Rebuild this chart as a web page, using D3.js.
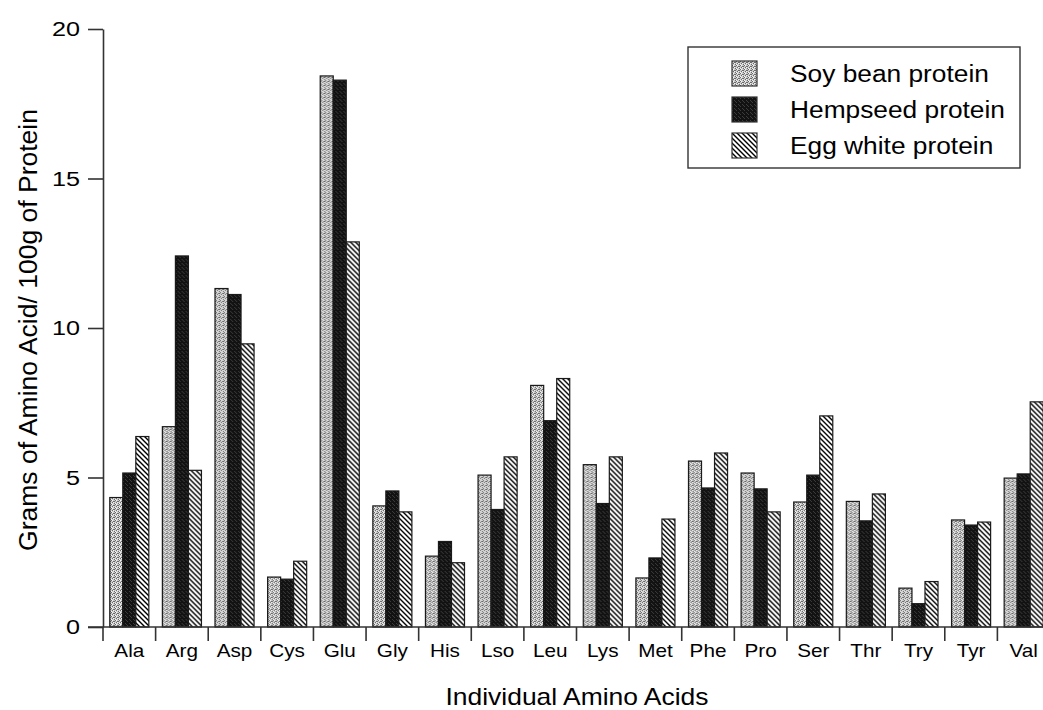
<!DOCTYPE html>
<html>
<head>
<meta charset="utf-8">
<script src="https://cdn.jsdelivr.net/npm/d3@7"></script>
<style>
  body { margin: 0; background: #fff; }
  svg { display: block; }
  text { font-family: "Liberation Sans", Arial, sans-serif; fill: #000; }
</style>
</head>
<body>
<div id="chart"></div>
<script>
// values (g amino acid / 100 g protein)
const aminoAcids = ['Ala', 'Arg', 'Asp', 'Cys', 'Glu', 'Gly', 'His', 'Lso', 'Leu',
                    'Lys', 'Met', 'Phe', 'Pro', 'Ser', 'Thr', 'Try', 'Tyr', 'Val'];
const seriesNames = ['Soy bean protein', 'Hempseed protein', 'Egg white protein'];
const soyBean  = [4.33, 6.70, 11.32, 1.67, 18.43, 4.05, 2.37, 5.08, 8.08,
                  5.43, 1.64, 5.55, 5.15, 4.18, 4.20, 1.30, 3.58, 4.98];
const hempseed = [5.15, 12.41, 11.12, 1.60, 18.29, 4.55, 2.86, 3.93, 6.90,
                  4.13, 2.31, 4.65, 4.62, 5.08, 3.55, 0.78, 3.41, 5.12];
const eggWhite = [6.37, 5.24, 9.47, 2.20, 12.88, 3.85, 2.15, 5.69, 8.31,
                  5.69, 3.61, 5.82, 3.85, 7.06, 4.45, 1.52, 3.51, 7.53];
const yTicks = [0, 5, 10, 15, 20];

const width = 1043, height = 710;
const SX = 1.15; // the figure's lettering is wider than it is tall

const svg = d3.select('#chart').append('svg')
    .attr('width', width)
    .attr('height', height);

// fill patterns
const defs = svg.append('defs');

// soy: light grey stipple
const pSoy = defs.append('pattern').attr('id', 'pat-soy')
    .attr('width', 4).attr('height', 4).attr('patternUnits', 'userSpaceOnUse');
pSoy.append('rect').attr('width', 4).attr('height', 4).attr('fill', '#cbcbcb');
[[0, 0], [2, 1], [1, 2], [3, 3], [3, 1]].forEach(([a, b]) =>
    pSoy.append('rect').attr('x', a).attr('y', b).attr('width', 1).attr('height', 1).attr('fill', '#6a6a6a'));
[[1, 0], [0, 3], [2, 2]].forEach(([a, b]) =>
    pSoy.append('rect').attr('x', a).attr('y', b).attr('width', 1).attr('height', 1).attr('fill', '#f4f4f4'));

// hempseed: almost black with a faint grid
const pHemp = defs.append('pattern').attr('id', 'pat-hemp')
    .attr('width', 4).attr('height', 4).attr('patternUnits', 'userSpaceOnUse');
pHemp.append('rect').attr('width', 4).attr('height', 4).attr('fill', '#121212');
[[0, 1], [2, 3], [3, 0]].forEach(([a, b]) =>
    pHemp.append('rect').attr('x', a).attr('y', b).attr('width', 1).attr('height', 1).attr('fill', '#3c3c3c'));

// egg white: back-slash hatching
const pEgg = defs.append('pattern').attr('id', 'pat-egg')
    .attr('width', 5).attr('height', 5).attr('patternUnits', 'userSpaceOnUse');
pEgg.append('rect').attr('width', 5).attr('height', 5).attr('fill', '#fff');
pEgg.append('path')
    .attr('d', 'M-1,-1 L6,6 M-1,4 L1,6 M4,-1 L6,1')
    .attr('stroke', '#000').attr('stroke-width', 1.4);

const fills = ['url(#pat-soy)', 'url(#pat-hemp)', 'url(#pat-egg)'];
const seriesValues = [soyBean, hempseed, eggWhite];

// scales
const x = d3.scaleBand().domain(aminoAcids).range([103, 1050]).padding(0);
const x1 = d3.scaleBand().domain(seriesNames).range([0, x.bandwidth()])
    .paddingInner(0).paddingOuter(0.52);
const y = d3.scaleLinear().domain([0, 20]).range([627, 29]);

// stretched text helper
function stretchText(sel, k) {
    sel.attr('transform', function () {
        const tx = +this.getAttribute('x') || 0;
        return `translate(${tx},0) scale(${k},1) translate(${-tx},0)`;
    });
}

// bars
const rows = aminoAcids.map((a, i) => ({ key: a, vals: seriesValues.map(s => s[i]) }));
const groups = svg.append('g').selectAll('g')
    .data(rows)
    .join('g')
    .attr('transform', d => `translate(${x(d.key)},0)`);

groups.selectAll('rect')
    .data(d => d.vals.map((v, j) => ({ name: seriesNames[j], v, j })))
    .join('rect')
    .attr('x', d => x1(d.name))
    .attr('y', d => y(d.v))
    .attr('width', x1.bandwidth())
    .attr('height', d => y(0) - y(d.v))
    .attr('fill', d => fills[d.j])
    .attr('stroke', '#1a1a1a')
    .attr('stroke-width', 1.2);

// y axis
const yAxis = svg.append('g')
    .attr('transform', 'translate(103,0)')
    .call(d3.axisLeft(y).tickValues(yTicks).tickSize(15).tickSizeOuter(0).tickPadding(8));
yAxis.select('.domain').attr('stroke', '#333').attr('stroke-width', 1.6);
yAxis.selectAll('.tick line').attr('stroke', '#333').attr('stroke-width', 1.6);
yAxis.selectAll('.tick text')
    .style('font-size', '21px')
    .call(stretchText, 1.2);

// x axis: labels centred in the bands, ticks on the band edges
svg.append('line')
    .attr('x1', 88).attr('x2', 1050)
    .attr('y1', y(0)).attr('y2', y(0))
    .attr('stroke', '#333').attr('stroke-width', 1.6);

svg.append('g').selectAll('line')
    .data(aminoAcids)
    .join('line')
    .attr('x1', d => x(d)).attr('x2', d => x(d))
    .attr('y1', y(0)).attr('y2', y(0) + 14)
    .attr('stroke', '#333').attr('stroke-width', 1.6);

svg.append('g').selectAll('text')
    .data(aminoAcids)
    .join('text')
    .attr('x', d => x(d) + x.bandwidth() / 2)
    .attr('y', 657)
    .attr('text-anchor', 'middle')
    .style('font-size', '18px')
    .text(d => d)
    .call(stretchText, SX);

// axis titles
svg.append('text')
    .attr('x', 577)
    .attr('y', 705)
    .attr('text-anchor', 'middle')
    .style('font-size', '23px')
    .text('Individual Amino Acids')
    .call(stretchText, SX);

svg.append('text')
    .attr('transform', 'translate(37,330) rotate(-90)')
    .attr('text-anchor', 'middle')
    .style('font-size', '26.5px')
    .text('Grams of Amino Acid/ 100g of Protein');

// legend
const legend = svg.append('g');
legend.append('rect')
    .attr('x', 688).attr('y', 47)
    .attr('width', 332).attr('height', 121)
    .attr('fill', '#fff')
    .attr('stroke', '#333').attr('stroke-width', 1.4);

const items = legend.selectAll('g.item')
    .data(seriesNames)
    .join('g')
    .attr('class', 'item')
    .attr('transform', (d, i) => `translate(732,${61 + i * 36})`);

items.append('rect')
    .attr('width', 25).attr('height', 25)
    .attr('fill', (d, i) => fills[i])
    .attr('stroke', '#333').attr('stroke-width', 1.2);

items.append('text')
    .attr('x', 58)
    .attr('y', 21)
    .style('font-size', '23.5px')
    .text(d => d)
    .call(stretchText, 1.12);
</script>
</body>
</html>
